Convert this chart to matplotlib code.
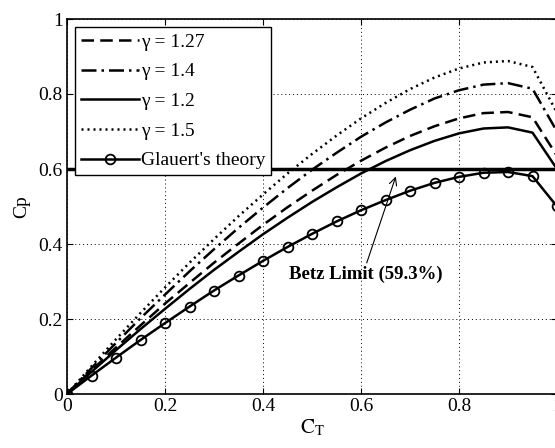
import matplotlib
matplotlib.use("Agg")
import matplotlib.pyplot as plt

plt.rcParams['font.family'] = ['Liberation Serif', 'DejaVu Serif']
plt.rcParams['mathtext.fontset'] = 'stix'

ct = [0.0, 0.05, 0.10, 0.15, 0.20, 0.25, 0.30, 0.35, 0.40, 0.45, 0.50,
      0.55, 0.60, 0.65, 0.70, 0.75, 0.80, 0.85, 0.90, 0.95, 1.0]
cp_glauert = [0.0, 0.049, 0.097, 0.144, 0.189, 0.233, 0.276, 0.316, 0.355, 0.392, 0.427,
              0.460, 0.490, 0.517, 0.542, 0.563, 0.579, 0.590, 0.592, 0.581, 0.500]
cp_g127 = [0.0, 0.063, 0.124, 0.183, 0.241, 0.296, 0.350, 0.401, 0.451, 0.498, 0.542,
           0.584, 0.622, 0.657, 0.688, 0.714, 0.735, 0.749, 0.752, 0.738, 0.635]
cp_g14 = [0.0, 0.069, 0.136, 0.202, 0.265, 0.327, 0.386, 0.443, 0.497, 0.549, 0.598,
          0.643, 0.686, 0.724, 0.758, 0.788, 0.810, 0.825, 0.829, 0.814, 0.700]
cp_g12 = [0.0, 0.059, 0.117, 0.173, 0.227, 0.280, 0.331, 0.379, 0.426, 0.470, 0.512,
          0.551, 0.588, 0.621, 0.650, 0.675, 0.695, 0.708, 0.711, 0.697, 0.600]
cp_g15 = [0.0, 0.074, 0.146, 0.216, 0.284, 0.350, 0.413, 0.474, 0.532, 0.588, 0.640,
          0.689, 0.735, 0.776, 0.813, 0.844, 0.868, 0.884, 0.888, 0.872, 0.750]
betz = 0.6
ticks = [0, 0.2, 0.4, 0.6, 0.8, 1.0]
tick_labels = ['0', '0.2', '0.4', '0.6', '0.8', '1']

fig = plt.figure(figsize=(5.55, 4.48), dpi=100)
ax = fig.add_axes([67/555, (448-394)/448, 490/555, 375/448])

ax.plot(ct, cp_g127, color='black', lw=1.8, ls=(0, (5, 2.5)), label='γ = 1.27')
ax.plot(ct, cp_g14, color='black', lw=1.8, ls=(0, (6, 2, 1, 2)), label='γ = 1.4')
ax.plot(ct, cp_g12, color='black', lw=1.8, ls='-', label='γ = 1.2')
ax.plot(ct, cp_g15, color='black', lw=1.8, ls=(0, (0.8, 1.6)), label='γ = 1.5')
ax.plot(ct, cp_glauert, color='black', lw=1.8, marker='o', ms=7, mfc='none', mew=1.3,
        label="Glauert's theory")
ax.axhline(betz, color='black', lw=2.5, zorder=1)

ax.annotate('Betz Limit (59.3%)', xy=(0.671, 0.58), xytext=(0.453, 0.319),
            fontsize=13.5, fontweight='bold', ha='left', va='center',
            arrowprops=dict(arrowstyle='->', color='black', lw=0.8,
                            shrinkA=0, shrinkB=0, relpos=(0.5, 1.0)))

ax.set_xlim(0, 1)
ax.set_ylim(0, 1)
ax.set_xticks(ticks)
ax.set_xticklabels(tick_labels)
ax.set_yticks(ticks)
ax.set_yticklabels(tick_labels)
ax.tick_params(direction='in', top=True, right=True, labelsize=14, length=4, pad=3)
ax.grid(True, color='black', ls=(0, (1, 3)), lw=0.7)
for s in ax.spines.values():
    s.set_linewidth(1.2)

ax.set_xlabel(r'$\mathrm{C}_{\mathrm{T}}$', fontsize=15, labelpad=2)
ax.set_ylabel('Cp', fontsize=14, labelpad=6)

leg = ax.legend(loc='upper left', bbox_to_anchor=(0.016, 0.978), borderaxespad=0,
                fontsize=14, handlelength=3.0, handletextpad=0.1, labelspacing=0.62,
                fancybox=False, framealpha=1, edgecolor='black', borderpad=0.3)
leg.get_frame().set_linewidth(1.0)

fig.savefig('out.png', dpi=100)
